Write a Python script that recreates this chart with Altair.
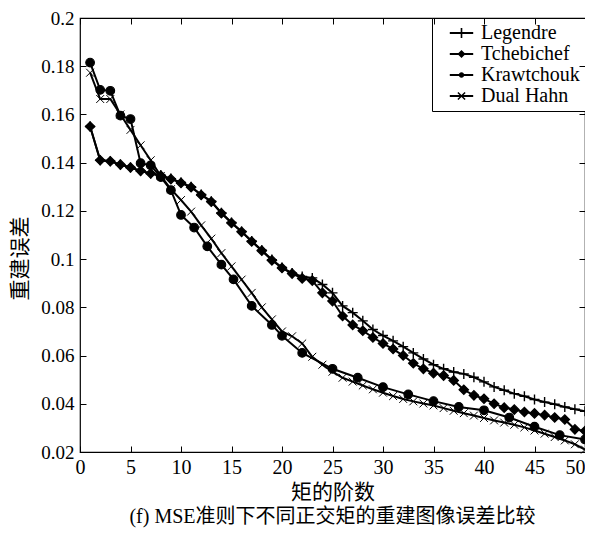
import altair as alt
import pandas as pd

series_names = ["Legendre", "Tchebichef", "Krawtchouk", "Dual Hahn"]

orders = list(range(1, 51))

legendre = [0.1550, 0.1410, 0.1406, 0.1392, 0.1380, 0.1366, 0.1355, 0.1348, 0.1334, 0.1318,
            0.1300, 0.1268, 0.1240, 0.1192, 0.1152, 0.1115, 0.1075, 0.1037, 0.0998, 0.0965,
            0.0942, 0.0928, 0.0922, 0.0895, 0.0860, 0.0806, 0.0778, 0.0744, 0.0708, 0.0683,
            0.0661, 0.0637, 0.0611, 0.0586, 0.0562, 0.0545, 0.0532, 0.0524, 0.0510, 0.0491,
            0.0470, 0.0456, 0.0442, 0.0431, 0.0418, 0.0407, 0.0398, 0.0387, 0.0377, 0.0369]

tchebichef = [0.1550, 0.1410, 0.1406, 0.1392, 0.1380, 0.1366, 0.1355, 0.1346, 0.1332, 0.1316,
              0.1298, 0.1266, 0.1238, 0.1190, 0.1150, 0.1113, 0.1073, 0.1035, 0.0995, 0.0963,
              0.0940, 0.0920, 0.0911, 0.0860, 0.0826, 0.0764, 0.0727, 0.0703, 0.0675, 0.0650,
              0.0627, 0.0600, 0.0568, 0.0545, 0.0527, 0.0517, 0.0497, 0.0458, 0.0435, 0.0421,
              0.0400, 0.0384, 0.0376, 0.0366, 0.0360, 0.0353, 0.0343, 0.0335, 0.0294, 0.0287]

kraw_x = [1, 2, 3, 4, 5, 6, 7, 8, 9, 10, 11.3, 12.6, 14, 15.2, 17, 19, 20, 22, 25, 27.5,
          30, 32.5, 35, 37.5, 40, 42.5, 45, 47.5, 50]
kraw_y = [0.1815, 0.1702, 0.1698, 0.1595, 0.1581, 0.1398, 0.1389, 0.1340, 0.1286, 0.1183,
          0.1131, 0.1053, 0.0977, 0.0916, 0.0806, 0.0727, 0.0682, 0.0611, 0.0545, 0.0508,
          0.0469, 0.0439, 0.0411, 0.0387, 0.0373, 0.0343, 0.0305, 0.0270, 0.0252]

dual_hahn = [0.1773, 0.1664, 0.1664, 0.1600, 0.1536, 0.1472, 0.1410, 0.1345, 0.1290, 0.1245,
             0.1197, 0.1140, 0.1085, 0.1025, 0.0970, 0.0915, 0.0860, 0.0800, 0.0750, 0.0700,
             0.0680, 0.0650, 0.0595, 0.0562, 0.0533, 0.0508, 0.0492, 0.0476, 0.0460, 0.0446,
             0.0432, 0.0420, 0.0410, 0.0401, 0.0393, 0.0382, 0.0371, 0.0361, 0.0351, 0.0341,
             0.0331, 0.0322, 0.0313, 0.0302, 0.0289, 0.0276, 0.0262, 0.0248, 0.0232, 0.0210]

x_ticks = [0, 5, 10, 15, 20, 25, 30, 35, 40, 45, 50]
y_ticks = [0.02, 0.04, 0.06, 0.08, 0.1, 0.12, 0.14, 0.16, 0.18, 0.2]

rows = []
for name, xs, ys in [("Legendre", orders, legendre), ("Tchebichef", orders, tchebichef),
                     ("Krawtchouk", kraw_x, kraw_y), ("Dual Hahn", orders, dual_hahn)]:
    for xv, yv in zip(xs, ys):
        rows.append({"series": name, "order": xv, "err": yv})
df = pd.DataFrame(rows)

W, H = 505, 434
FONT = "Times New Roman, Liberation Serif, DejaVu Serif, serif"
CJK = "Times New Roman, Liberation Serif, Noto Sans CJK SC, serif"

xscale = alt.Scale(domain=[0, 50], nice=False, zero=False)
yscale = alt.Scale(domain=[0.02, 0.2], nice=False, zero=False)


def tick_axis(orient, offset):
    return alt.Axis(orient=orient, offset=offset, labels=False, domain=False, grid=False,
                    ticks=True, tickSize=6, tickColor="black", tickWidth=1, title=None,
                    zindex=2,
                    values=x_ticks if orient in ("top", "bottom") else y_ticks)


lines = alt.Chart(df).mark_line(color="black", strokeWidth=2).encode(
    x=alt.X("order:Q", scale=xscale,
            axis=alt.Axis(orient="bottom", values=x_ticks, ticks=False, domain=False, grid=False,
                          labelFont=FONT, labelFontSize=20, labelColor="black", labelPadding=5,
                          labelFlush=False, labelOverlap=False, labelBound=False,
                          labelAlign={"condition": {"test": "datum.value >= 50", "value": "right"},
                                      "value": "center"},
                          title="矩的阶数", titleFont=CJK, titleFontSize=21,
                          titleFontWeight="normal", titleColor="black", titlePadding=4)),
    y=alt.Y("err:Q", scale=yscale,
            axis=alt.Axis(orient="left", values=y_ticks, format="~g", ticks=False, domain=False,
                          grid=False, labelFont=FONT, labelFontSize=19, labelColor="black",
                          labelPadding=6, labelOverlap=False,
                          title="重建误差", titleFont=CJK, titleFontSize=21, titleY=240,
                          titleFontWeight="normal", titleColor="black", titlePadding=10)),
    detail="series:N",
)

marker_shapes = ["M-1,0H1M0,-1V1", "diamond", "circle", "M-1,-1L1,1M-1,1L1,-1"]
marker_sizes = [100, 62, 40, 45]
marker_widths = [1.4, 1, 1, 1.1]

points = alt.Chart(df).mark_point(filled=True, color="black", stroke="black", opacity=1).encode(
    x=alt.X("order:Q", scale=xscale, axis=tick_axis("top", -H)),
    y=alt.Y("err:Q", scale=yscale, axis=tick_axis("right", -W)),
    shape=alt.Shape("series:N", scale=alt.Scale(domain=series_names, range=marker_shapes), legend=None),
    size=alt.Size("series:N", scale=alt.Scale(domain=series_names, range=marker_sizes), legend=None),
    strokeWidth=alt.StrokeWidth("series:N", scale=alt.Scale(domain=series_names, range=marker_widths), legend=None),
)

# legend glyphs drawn as filled outlines (all wound clockwise): a short line with the marker on it
LINE = "M-1.3,-0.11H1.3V0.11H-1.3Z"
legend_shapes = [
    LINE + "M-0.09,-0.55H0.09V0.55H-0.09Z",
    LINE + "M-0.45,0L0,-0.45L0.45,0L0,0.45Z",
    LINE + "M-0.3,0A0.3,0.3 0 1,1 0.3,0A0.3,0.3 0 1,1 -0.3,0Z",
    LINE + "M-0.457,-0.343L-0.343,-0.457L0.457,0.343L0.343,0.457Z"
           "M-0.457,0.343L0.343,-0.457L0.457,-0.343L-0.343,0.457Z",
]

legend_layer = alt.Chart(df).transform_filter("datum.err > 1").mark_point(
    filled=True, color="black", opacity=1
).encode(
    x=alt.X("order:Q", scale=xscale, axis=tick_axis("bottom", -H)),
    y=alt.Y("err:Q", scale=yscale, axis=tick_axis("left", -W)),
    shape=alt.Shape("series:N", scale=alt.Scale(domain=series_names, range=legend_shapes),
                    legend=alt.Legend(title=None, orient="top-right", offset=0, padding=5,
                                      strokeColor="black", fillColor="white", cornerRadius=0,
                                      labelFont=FONT, labelFontSize=20, labelColor="black",
                                      labelExpr="datum.label + '\u00a0\u00a0'",
                                      symbolSize=324, symbolOffset=14.5, labelOffset=9.5,
                                      rowPadding=1, zindex=1)),
)

chart = alt.layer(lines, points, legend_layer).resolve_scale(
    shape="independent"
).resolve_axis(
    x="independent", y="independent"
).properties(
    width=W, height=H,
    autosize=alt.AutoSizeParams(type="none"),
    padding={"left": 72, "top": 10, "right": 0, "bottom": 77},
    title=alt.TitleParams(text="(f) MSE准则下不同正交矩的重建图像误差比较", orient="bottom",
                          anchor="middle", font=CJK, fontSize=20, fontWeight="normal",
                          color="black", offset=5),
).configure_view(stroke="black", strokeWidth=1.2)

chart.save("out.html", embed_options={"renderer": "svg", "actions": False})
